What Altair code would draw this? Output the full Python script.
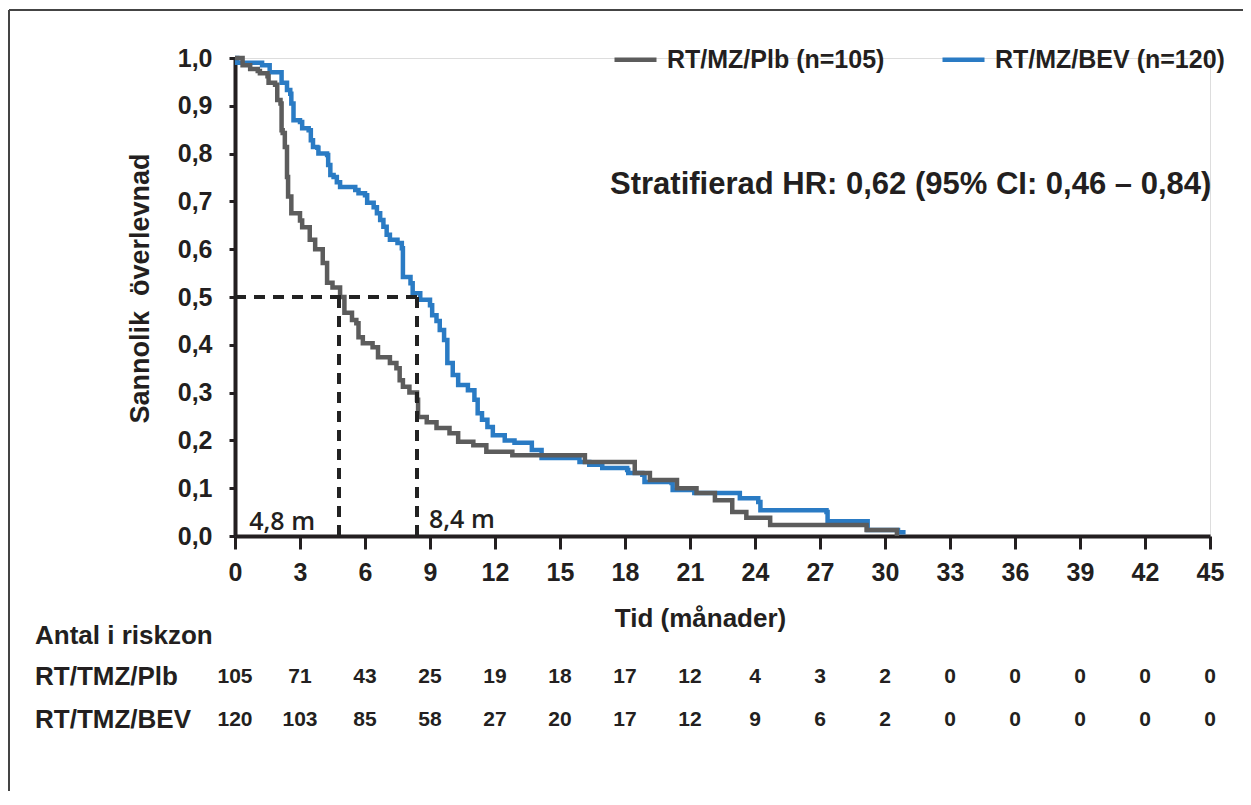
import altair as alt
import pandas as pd

# ---------------- data ----------------
PLB = "RT/MZ/Plb (n=105)"
BEV = "RT/MZ/BEV (n=120)"

plb_t = [0, 0.35, 0.7, 1.05, 1.15, 1.5, 1.55, 1.85, 1.95, 2.1, 2.15, 2.2, 2.3, 2.4, 2.45, 2.6,
         3.0, 3.1, 3.45, 3.7, 4.05, 4.25, 4.5, 4.85, 5.05, 5.4, 5.6, 5.7, 5.9, 6.35, 6.6, 7.15,
         7.45, 7.6, 7.75, 8.05, 8.4, 8.45, 8.85, 9.3, 9.9, 10.3, 11.0, 11.6, 12.8, 16.15, 18.45,
         19.15, 20.4, 21.3, 22.15, 22.95, 23.6, 24.7, 29.15, 30.55]
plb_s = [1.0, 0.985, 0.977, 0.973, 0.968, 0.962, 0.948, 0.944, 0.912, 0.905, 0.849, 0.843, 0.814,
         0.751, 0.71, 0.675, 0.66, 0.646, 0.62, 0.6, 0.571, 0.53, 0.52, 0.5, 0.467, 0.452, 0.445,
         0.416, 0.403, 0.395, 0.374, 0.362, 0.351, 0.326, 0.312, 0.3, 0.285, 0.249, 0.238, 0.226,
         0.215, 0.197, 0.19, 0.176, 0.169, 0.155, 0.132, 0.117, 0.1, 0.09, 0.075, 0.05, 0.038,
         0.023, 0.0125, 0.0]

bev_t = [0, 0.1, 1.25, 1.6, 2.15, 2.4, 2.55, 2.6, 2.7, 3.0, 3.1, 3.4, 3.5, 3.6, 3.8, 3.85, 4.25,
         4.3, 4.4, 4.55, 4.7, 4.85, 5.55, 5.7, 6.0, 6.1, 6.4, 6.55, 6.7, 6.85, 7.0, 7.15, 7.5, 7.7,
         7.75, 8.1, 8.2, 8.55, 9.0, 9.1, 9.3, 9.45, 9.65, 9.8, 10.05, 10.3, 10.75, 11.05, 11.2,
         11.4, 11.65, 11.9, 12.45, 12.9, 13.7, 14.15, 15.9, 16.35, 16.95, 18.1, 18.15, 18.8, 18.9,
         20.15, 20.2, 21.2, 23.3, 24.15, 24.25, 27.3, 27.35, 29.2, 30.6, 30.95]
bev_s = [1.0, 0.99, 0.985, 0.97, 0.948, 0.933, 0.925, 0.905, 0.87, 0.866, 0.853, 0.849, 0.828,
         0.814, 0.812, 0.8, 0.797, 0.776, 0.755, 0.751, 0.74, 0.73, 0.724, 0.717, 0.713, 0.697,
         0.688, 0.675, 0.661, 0.647, 0.63, 0.62, 0.613, 0.602, 0.542, 0.529, 0.508, 0.494, 0.483,
         0.462, 0.45, 0.431, 0.41, 0.362, 0.337, 0.316, 0.305, 0.285, 0.257, 0.243, 0.228, 0.211,
         0.2, 0.195, 0.18, 0.163, 0.155, 0.149, 0.142, 0.138, 0.132, 0.128, 0.113, 0.111, 0.096,
         0.09, 0.079, 0.071, 0.054, 0.05, 0.031, 0.0125, 0.008, 0.008]

medians = [4.8, 8.4]
median_labels = ["4,8 m", "8,4 m"]

risk_times = list(range(0, 46, 3))
risk_plb = [105, 71, 43, 25, 19, 18, 17, 12, 4, 3, 2, 0, 0, 0, 0, 0]
risk_bev = [120, 103, 85, 58, 27, 20, 17, 12, 9, 6, 2, 0, 0, 0, 0, 0]

x_ticks = list(range(0, 46, 3))
y_ticks = [i / 10 for i in range(11)]

hr_text = "Stratifierad HR: 0,62 (95% CI: 0,46 – 0,84)"
risk_title = "Antal i riskzon"
row_labels = ["RT/TMZ/Plb", "RT/TMZ/BEV"]

# ---------------- styles ----------------
GRAY = "#5c5c5c"
BLUE = "#2a7bc4"
INK = "#231f20"
FONT = "Liberation Sans"

W, H = 975, 478

plb_df = pd.DataFrame({"t": plb_t, "s": plb_s, "group": PLB})
bev_df = pd.DataFrame({"t": bev_t, "s": bev_s, "group": BEV})

x_scale = alt.Scale(domain=[0, 45], nice=False, zero=False)
y_scale = alt.Scale(domain=[0, 1], nice=False)

color = alt.Color(
    "group:N",
    scale=alt.Scale(domain=[PLB, BEV], range=[GRAY, BLUE]),
    legend=alt.Legend(
        title=None, orient="none", legendX=377, legendY=-22, direction="horizontal",
        symbolType="stroke", symbolSize=1764, symbolStrokeWidth=4.5,
        labelFont=FONT, labelFontSize=25, labelFontWeight="bold", labelColor=INK,
        labelOffset=8, columnPadding=48, labelLimit=400,
    ),
)

x_enc = alt.X(
    "t:Q", scale=x_scale,
    axis=alt.Axis(
        values=x_ticks, title="Tid (månader)", grid=False,
        domainColor=INK, domainWidth=4, tickColor=INK, tickWidth=3, tickSize=13,
        labelFont=FONT, labelFontSize=25, labelFontWeight="bold", labelColor=INK,
        labelPadding=11, labelFlush=False,
        titleFont=FONT, titleFontSize=26, titleFontWeight="bold", titleColor=INK,
        titleX=465, titleY=82, titleBaseline="middle", titleAlign="center",
    ),
)
y_enc = alt.Y(
    "s:Q", scale=y_scale,
    axis=alt.Axis(
        values=y_ticks, format=".1f", labelExpr="replace(datum.label, '.', ',')",
        title="Sannolik\u00a0 överlevnad", grid=False,
        domainColor=INK, domainWidth=4, tickColor=INK, tickWidth=3, tickSize=6,
        labelFont=FONT, labelFontSize=25, labelFontWeight="bold", labelColor=INK,
        labelPadding=17, labelFlush=False,
        titleFont=FONT, titleFontSize=27, titleFontWeight="bold", titleColor=INK,
        titleX=-95, titleY=230, titleAngle=-90, titleBaseline="middle", titleAlign="center",
    ),
)

bev_line = alt.Chart(bev_df).mark_line(interpolate="step-after", strokeWidth=4.5).encode(
    x=x_enc, y=y_enc, color=color
)
plb_line = alt.Chart(plb_df).mark_line(interpolate="step-after", strokeWidth=4.5).encode(
    x="t:Q", y="s:Q", color=color
)

med_df = pd.DataFrame({"m": medians, "label": median_labels, "zero": [0.0, 0.0], "half": [0.5, 0.5]})
dash = dict(strokeDash=[11, 8], strokeWidth=4, color="#222222")
med_v = alt.Chart(med_df).mark_rule(**dash).encode(
    x="m:Q", y="zero:Q", y2="half:Q"
)
med_h = alt.Chart(med_df.iloc[[1]]).mark_rule(**dash).encode(
    x="zero:Q", x2="m:Q", y="half:Q"
)
med_lab1 = alt.Chart(med_df.iloc[[0]]).mark_text(
    align="right", baseline="alphabetic", dx=-24, dy=-6, font="Open Sans", fontWeight=600,
    fontSize=25, color=INK
).encode(x="m:Q", y="zero:Q", text="label:N")
med_lab2 = alt.Chart(med_df.iloc[[1]]).mark_text(
    align="left", baseline="alphabetic", dx=12, dy=-8, font="Open Sans", fontWeight=600,
    fontSize=25, color=INK
).encode(x="m:Q", y="zero:Q", text="label:N")

hr = alt.Chart(pd.DataFrame({"txt": [hr_text]})).mark_text(
    align="left", baseline="middle", font=FONT, fontSize=31, fontWeight="bold", color=INK
).encode(x=alt.value(375), y=alt.value(127), text="txt:N")

risk_df = pd.DataFrame({"t": risk_times, "plb": risk_plb, "bev": risk_bev})
num_style = dict(align="center", baseline="middle", font=FONT, fontSize=21, fontWeight="bold", color=INK)
risk1 = alt.Chart(risk_df).mark_text(**num_style).encode(
    x="t:Q", y=alt.value(619), text="plb:Q"
)
risk2 = alt.Chart(risk_df).mark_text(**num_style).encode(
    x="t:Q", y=alt.value(662), text="bev:Q"
)
lab_style = dict(align="left", baseline="middle", font=FONT, fontSize=26, fontWeight="bold", color=INK)
row0 = alt.Chart(pd.DataFrame({"txt": [risk_title]})).mark_text(**lab_style).encode(
    x=alt.value(-200), y=alt.value(578), text="txt:N")
row1 = alt.Chart(pd.DataFrame({"txt": [row_labels[0]]})).mark_text(**lab_style).encode(
    x=alt.value(-200), y=alt.value(619), text="txt:N")
row2 = alt.Chart(pd.DataFrame({"txt": [row_labels[1]]})).mark_text(**lab_style).encode(
    x=alt.value(-200), y=alt.value(662), text="txt:N")

frame_df = pd.DataFrame({"k": [0]})
frame_left = alt.Chart(frame_df).mark_rule(color="#444444", strokeWidth=2).encode(
    x=alt.value(-226), y=alt.value(-48), y2=alt.value(740)
)
frame_top = alt.Chart(frame_df).mark_rule(color="#444444", strokeWidth=2).encode(
    x=alt.value(-226), x2=alt.value(1010), y=alt.value(-48)
)

chart = alt.layer(
    frame_left, frame_top, bev_line, plb_line, med_h, med_v, med_lab1, med_lab2, hr,
    row0, row1, row2, risk1, risk2,
).properties(
    width=W, height=H,
    autosize=alt.AutoSizeParams(type="none"),
    padding={"left": 227, "top": 50, "right": 33, "bottom": 255},
).configure_view(stroke=None).configure(background="white")

chart.save("out.html", embed_options={"renderer": "svg", "actions": False})
